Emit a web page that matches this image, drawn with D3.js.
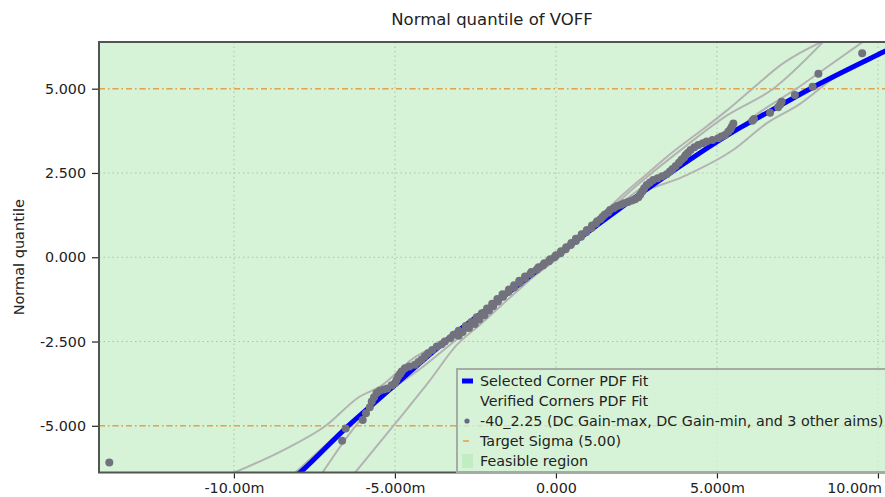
<!DOCTYPE html>
<html>
<head>
<meta charset="utf-8">
<script src="https://cdn.jsdelivr.net/npm/d3@7"></script>
<style>
  html, body { margin: 0; padding: 0; background: #ffffff; }
  svg { display: block; font-family: "DejaVu Sans", sans-serif; }
</style>
</head>
<body>
<svg id="chart" width="885" height="497"></svg>
<script>
// Axis ticks (VOFF in mV on x, normal quantile on y)
const xTicks = [-10, -5, 0, 5, 10];
const xTickLabels = ["-10.00m", "-5.000m", "0.000", "5.000m", "10.00m"];
const yTicks = [-5, -2.5, 0, 2.5, 5];
const yTickLabels = ["-5.000", "-2.500", "0.000", "2.500", "5.000"];
const targetSigma = 5;

// Selected corner PDF fit (x in mV, normal quantile)
const fitX = [-8.7, -7.95, -6.45, -4.95, -3.45, -1.75, -0.05, 1.7, 3.55, 5.55, 6.34, 7.9, 10.2, 10.8];
const fitQ = [-7.0, -6.39, -5.0, -3.75, -2.5, -1.25, 0, 1.25, 2.5, 3.75, 4.17, 5.0, 6.1, 6.38];

// Verified corners PDF fits
const verifiedFits = [
  { x: [-10.0, -8.57, -7.15, -6.09, -5.47, -4.43, -3.7, -2.4, -1.2, 0.0, 1.1, 1.9, 2.8, 3.6, 4.5, 5.3, 6.1, 7.05, 8.25],
    q: [-6.39, -5.77, -5.0, -4.13, -3.84, -3.0, -2.6, -1.75, -0.92, 0.0, 0.95, 1.7, 2.45, 3.1, 3.75, 4.35, 5.0, 5.75, 6.39] },
  { x: [-7.25, -6.22, -5.2, -4.2, -3.1, -1.6, 0.0, 1.6, 2.6, 3.9, 5.3, 6.75, 8.3],
    q: [-6.39, -5.0, -4.0, -3.3, -2.45, -1.2, 0.05, 1.35, 2.2, 3.2, 4.2, 5.0, 6.39] },
  { x: [-6.24, -5.05, -3.95, -3.08, -2.36, -1.2, 0.0, 1.3, 2.5, 3.44, 5.3, 6.4, 7.47, 8.14, 9.53],
    q: [-6.39, -5.0, -3.7, -2.6, -2.0, -1.0, 0.0, 1.05, 1.95, 2.55, 3.58, 4.35, 5.0, 5.45, 6.39] },
  { x: [-8.1, -6.6, -5.0, -3.4, -1.6, 0.1, 1.5, 2.4, 3.95, 5.5, 6.54, 7.58, 8.6, 10.8],
    q: [-6.39, -5.1, -3.8, -2.55, -1.2, 0.0, 1.15, 1.8, 2.39, 3.18, 3.97, 4.55, 5.3, 6.38] }
];

// -40_2.25 sample points: VOFF (mV) and normal quantile
const sampleX = [-13.87, -6.64, -6.53, -6.0, -5.9, -5.78, -5.72, -5.65, -5.57, -5.47, -5.35, -5.24, -5.1, -5.0,
  -4.95, -4.9, -4.84, -4.79, -4.69, -4.55, -4.38, -4.27, -4.17, -4.07, -3.97, -3.84, -3.7, -3.55, -3.45,
  -3.28, -3.02, -3.18, -2.90, -3.02, -2.70, -2.80, -2.52, -2.62, -2.38, -2.46, -2.22, -2.30, -2.08, -2.14,
  -1.95, -1.98, -1.80, -1.82, -1.64, -1.66, -1.48, -1.46, -1.30, -1.30, -1.12, -1.14, -0.96, -0.96, -0.80,
  -0.76, -0.60, -0.54, -0.40, -0.36, -0.22, -0.18, -0.04, 0.00, 0.14, 0.16, 0.30, 0.32, 0.46, 0.48, 0.62,
  0.62, 0.78, 0.80, 0.94, 0.96, 1.10, 1.12, 1.24, 1.28, 1.38, 1.45, 1.52, 1.62, 1.68, 1.80, 1.90, 2.02,
  2.12, 2.24, 2.36, 2.46, 2.56, 2.62, 2.68, 2.74, 2.82, 2.92, 3.02, 3.16, 3.30, 3.44, 3.54, 3.62, 3.72,
  3.82, 3.90, 3.98, 4.03, 4.10, 4.18, 4.30, 4.42, 4.56, 4.68, 4.86, 5.04, 5.14, 5.25, 5.35, 5.42, 5.46,
  5.51, 6.10, 6.15, 6.65, 6.90, 6.96, 7.01, 7.42, 7.97, 8.15, 9.51];
const sampleQ = [-6.09, -5.44, -5.08, -4.83, -4.63, -4.45, -4.28, -4.15, -4.03, -3.96, -3.92, -3.89, -3.8, -3.74,
  -3.64, -3.54, -3.46, -3.39, -3.29, -3.24, -3.19, -3.11, -3.03, -2.94, -2.85, -2.75, -2.65, -2.58, -2.50,
  -2.40, -2.33, -2.30, -2.22, -2.18, -2.10, -2.04, -1.98, -1.92, -1.85, -1.78, -1.72, -1.66, -1.58, -1.52,
  -1.45, -1.38, -1.31, -1.24, -1.17, -1.10, -1.03, -0.96, -0.90, -0.83, -0.76, -0.70, -0.63, -0.57, -0.50,
  -0.44, -0.37, -0.30, -0.24, -0.18, -0.12, -0.06, 0.00, 0.06, 0.12, 0.18, 0.24, 0.30, 0.36, 0.42, 0.48,
  0.55, 0.61, 0.68, 0.74, 0.81, 0.87, 0.94, 1.00, 1.07, 1.13, 1.20, 1.27, 1.33, 1.40, 1.46, 1.52, 1.56,
  1.60, 1.64, 1.68, 1.72, 1.78, 1.86, 1.95, 2.05, 2.14, 2.22, 2.29, 2.34, 2.40, 2.46, 2.54, 2.62, 2.71,
  2.80, 2.89, 2.96, 3.03, 3.10, 3.18, 3.26, 3.33, 3.38, 3.43, 3.48, 3.53, 3.58, 3.63, 3.72, 3.80, 3.87,
  3.97, 4.05, 4.10, 4.29, 4.45, 4.52, 4.61, 4.81, 5.06, 5.44, 6.05];

const legendLabels = [
  "Selected Corner PDF Fit",
  "Verified Corners PDF Fit",
  "-40_2.25 (DC Gain-max, DC Gain-min, and 3 other aims)",
  "Target Sigma (5.00)",
  "Feasible region"
];

const svg = d3.select("#chart");
const W = 885, H = 497;
const plot = { left: 99, top: 42, right: 886, bottom: 472.5 };

const x = d3.scaleLinear().domain([-14.19, 10.25]).range([plot.left, plot.right]);
const y = d3.scaleLinear().domain([-6.385, 6.385]).range([plot.bottom, plot.top]);

const colors = {
  feasible: "#d7f3d7",
  grid: "#aac3aa",
  frame: "#505550",
  fit: "#0000ff",
  verified: "#b3b3b3",
  point: "#72727f",
  target: "#e5a24a"
};

svg.append("defs").append("clipPath").attr("id", "plotClip")
  .append("rect").attr("x", plot.left).attr("y", plot.top)
  .attr("width", plot.right - plot.left).attr("height", plot.bottom - plot.top);

// Feasible region background
svg.append("rect")
  .attr("x", plot.left).attr("y", plot.top)
  .attr("width", plot.right - plot.left).attr("height", plot.bottom - plot.top)
  .attr("fill", colors.feasible);

// Grid
const grid = svg.append("g").attr("clip-path", "url(#plotClip)");
grid.selectAll("line.vx").data(xTicks).join("line")
  .attr("x1", d => x(d)).attr("x2", d => x(d))
  .attr("y1", plot.top).attr("y2", plot.bottom)
  .attr("stroke", colors.grid).attr("stroke-width", 1).attr("stroke-dasharray", "1.5,3");
grid.selectAll("line.hy").data(yTicks).join("line")
  .attr("x1", plot.left).attr("x2", plot.right)
  .attr("y1", d => y(d)).attr("y2", d => y(d))
  .attr("stroke", colors.grid).attr("stroke-width", 1).attr("stroke-dasharray", "1.5,3");

const marks = svg.append("g").attr("clip-path", "url(#plotClip)");

// Target sigma lines
marks.selectAll("line.target").data([targetSigma, -targetSigma]).join("line")
  .attr("x1", plot.left).attr("x2", plot.right)
  .attr("y1", d => y(d)).attr("y2", d => y(d))
  .attr("stroke", colors.target).attr("stroke-width", 1.6).attr("stroke-dasharray", "6,3,1.5,3");

const line = d3.line().x(d => x(d[0])).y(d => y(d[1])).curve(d3.curveMonotoneX);

// Verified corners fits
marks.selectAll("path.verified").data(verifiedFits).join("path")
  .attr("d", f => line(d3.zip(f.x, f.q)))
  .attr("fill", "none").attr("stroke", colors.verified).attr("stroke-width", 2);

// Selected corner fit
marks.append("path")
  .attr("d", line(d3.zip(fitX, fitQ)))
  .attr("fill", "none").attr("stroke", colors.fit).attr("stroke-width", 5);

// Sample points
marks.selectAll("circle.pt").data(d3.zip(sampleX, sampleQ)).join("circle")
  .attr("cx", d => x(d[0])).attr("cy", d => y(d[1])).attr("r", 4)
  .attr("fill", colors.point);

// Frame (left, top, bottom)
svg.append("path")
  .attr("d", `M${plot.right},${plot.top}H${plot.left}V${plot.bottom}H${plot.right}`)
  .attr("fill", "none").attr("stroke", colors.frame).attr("stroke-width", 2);

// Axes
const xAxis = d3.axisBottom(x).tickValues(xTicks).tickFormat((d, i) => xTickLabels[i]).tickSize(5).tickPadding(4);
const yAxis = d3.axisLeft(y).tickValues(yTicks).tickFormat((d, i) => yTickLabels[i]).tickSize(6).tickPadding(6);

const gx = svg.append("g").attr("transform", `translate(0,${plot.bottom + 1})`).call(xAxis);
const gy = svg.append("g").attr("transform", `translate(${plot.left - 1},0)`).call(yAxis);
[gx, gy].forEach(g => {
  g.select(".domain").remove();
  g.selectAll(".tick line").attr("stroke", "#222").attr("stroke-width", 1.2);
  g.selectAll(".tick text").attr("fill", "#222").attr("font-size", 14.3)
    .attr("font-family", "DejaVu Sans, sans-serif");
});
// keep the last x label inside the canvas
gx.selectAll(".tick text").each(function () {
  const t = d3.select(this);
  const b = this.getBBox();
  const tx = +this.parentNode.getAttribute("transform").match(/translate\(([-\d.]+)/)[1];
  const overflow = tx + b.x + b.width - (W - 3);
  if (overflow > 0) t.attr("x", -overflow);
});

// Titles
svg.append("text").attr("x", 492).attr("y", 25).attr("text-anchor", "middle")
  .attr("font-size", 16.5).attr("fill", "#222").text("Normal quantile of VOFF");
svg.append("text").attr("transform", `translate(24,${y(0)}) rotate(-90)`)
  .attr("text-anchor", "middle").attr("font-size", 14.5).attr("fill", "#222").text("Normal quantile");

// Legend
const lg = svg.append("g").attr("transform", "translate(457,369)");
lg.append("rect").attr("x", 0).attr("y", 0).attr("width", 440).attr("height", 103)
  .attr("fill", colors.feasible).attr("fill-opacity", 0.75)
  .attr("stroke", "#a4aca4").attr("stroke-width", 2);
const rowY = i => 12 + i * 20;
lg.append("rect").attr("x", 5).attr("y", rowY(0) - 2.5).attr("width", 11).attr("height", 5).attr("fill", colors.fit);
lg.append("circle").attr("cx", 10).attr("cy", rowY(2)).attr("r", 2.6).attr("fill", "#666a88");
lg.append("line").attr("x1", 6).attr("x2", 12).attr("y1", rowY(3)).attr("y2", rowY(3))
  .attr("stroke", colors.target).attr("stroke-width", 1.6);
lg.append("rect").attr("x", 5).attr("y", rowY(4) - 7).attr("width", 11).attr("height", 14).attr("fill", "#c2ecc2");
lg.selectAll("text.item").data(legendLabels).join("text")
  .attr("x", 23).attr("y", (d, i) => rowY(i) + 5)
  .attr("font-size", 14.3).attr("fill", "#222").text(d => d);
</script>
</body>
</html>
